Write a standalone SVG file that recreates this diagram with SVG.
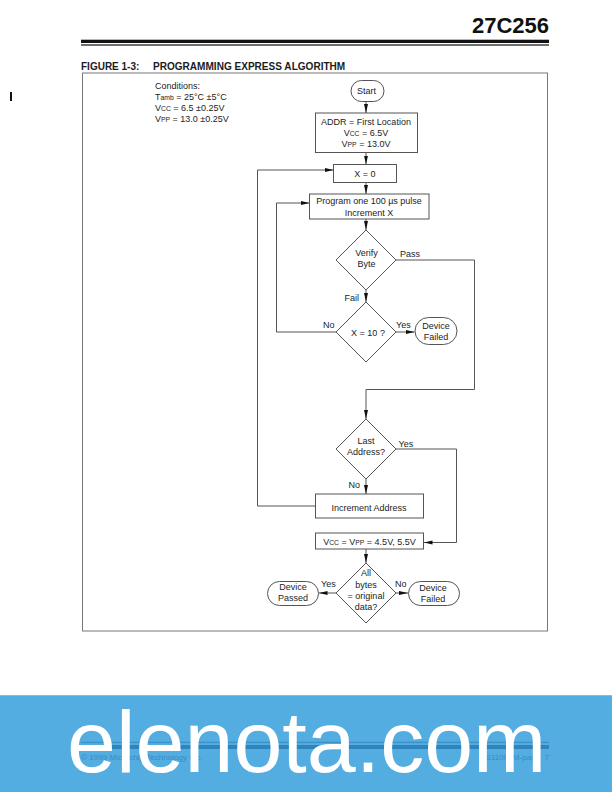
<svg xmlns="http://www.w3.org/2000/svg" width="612" height="792" viewBox="0 0 612 792">
<style>
text{font-family:"Liberation Sans",Arial,sans-serif;fill:#1c1c1c;font-size:9px}
.c{text-anchor:middle}
.s{font-size:6.8px}
.n{fill:#fff;stroke:#555;stroke-width:1}
.l{fill:none;stroke:#555;stroke-width:1}
.f{font-size:8.1px;fill:#3a8cc2}
</style>
<defs>
<marker id="a" markerWidth="9" markerHeight="6" refX="9" refY="3" orient="auto" markerUnits="userSpaceOnUse"><path d="M0 1 L9 3 L0 5 Z" fill="#111"/></marker>
</defs>
<rect width="612" height="792" fill="#fff"/>
<g id="header">
<text x="549" y="33" text-anchor="end" style="font-size:22px;font-weight:bold;fill:#111">27C256</text>
<rect x="81" y="39.7" width="468" height="3.3" fill="#111"/>
<rect x="81" y="44.3" width="468" height="1.4" fill="#333"/>
<rect x="10" y="92" width="2" height="9" fill="#111"/>
<text x="81" y="70" style="font-size:10px;font-weight:bold">FIGURE 1-3:</text>
<text x="153" y="70" style="font-size:10.05px;font-weight:bold">PROGRAMMING EXPRESS ALGORITHM</text>
<rect x="82.500" y="73" width="465" height="558" fill="none" stroke="#777" stroke-width="1"/>
</g>
<g id="conditions">
<text x="155" y="88.500">Conditions:</text>
<text x="155" y="100">T<tspan class="s">amb</tspan> = 25°C ±5°C</text>
<text x="155" y="111">V<tspan class="s">CC</tspan> = 6.5 ±0.25V</text>
<text x="155" y="122">V<tspan class="s">PP</tspan> = 13.0 ±0.25V</text>
</g>
<g id="connectors">
<path class="l" d="M366 101V113" marker-end="url(#a)"/>
<path class="l" d="M366 152.500V164.500" marker-end="url(#a)"/>
<path class="l" d="M366 182.500V194" marker-end="url(#a)"/>
<path class="l" d="M366 219V230" marker-end="url(#a)"/>
<path class="l" d="M366 290V302" marker-end="url(#a)"/>
<path class="l" d="M396 332H414.500" marker-end="url(#a)"/>
<path class="l" d="M336 332H276.500V203H309.500" marker-end="url(#a)"/>
<path class="l" d="M396 260H474.500V389.500H366V419" marker-end="url(#a)"/>
<path class="l" d="M366 479V494" marker-end="url(#a)"/>
<path class="l" d="M315 506H257.500V170H333.500" marker-end="url(#a)"/>
<path class="l" d="M396 449H456.500V542.500H423.500" marker-end="url(#a)"/>
<path class="l" d="M366 549V563" marker-end="url(#a)"/>
<path class="l" d="M336 593H318.500" marker-end="url(#a)"/>
<path class="l" d="M396 593H408" marker-end="url(#a)"/>
</g>
<g id="start"><rect class="n" x="351" y="80.500" width="33" height="21" rx="10.500"/><text class="c" x="366.500" y="94">Start</text></g>
<g id="addr"><rect class="n" x="315.500" y="113" width="102" height="39.500"/>
<text class="c" x="366" y="125">ADDR = First Location</text>
<text class="c" x="366" y="136">V<tspan class="s">CC</tspan> = 6.5V</text>
<text class="c" x="366" y="147">V<tspan class="s">PP</tspan> = 13.0V</text></g>
<g id="x0"><rect class="n" x="333.500" y="164.500" width="63" height="18"/><text class="c" x="365" y="176.500">X = 0</text></g>
<g id="program"><rect class="n" x="309.500" y="194" width="119.500" height="25"/>
<text class="c" x="369" y="204">Program one 100 µs pulse</text>
<text class="c" x="369" y="216">Increment X</text></g>
<g id="verify"><path class="n" d="M366 230L396 260L366 290L336 260Z"/>
<text class="c" x="366.500" y="256">Verify</text><text class="c" x="366.500" y="267">Byte</text></g>
<g id="x10"><path class="n" d="M366 302L396 332L366 362L336 332Z"/><text class="c" x="368" y="335.500">X = 10 ?</text></g>
<g id="failed1"><rect class="n" x="415" y="317.500" width="42" height="27" rx="13.500"/>
<text class="c" x="436" y="329">Device</text><text class="c" x="436" y="340">Failed</text></g>
<g id="last"><path class="n" d="M366 419L396 449L366 479L336 449Z"/>
<text class="c" x="366" y="444">Last</text><text class="c" x="366" y="455">Address?</text></g>
<g id="incaddr"><rect class="n" x="315.500" y="494" width="108" height="24"/><text class="c" x="369" y="511">Increment Address</text></g>
<g id="vcc"><rect class="n" x="315.500" y="533" width="108" height="16"/><text class="c" x="369.500" y="544.500">V<tspan class="s">CC</tspan> = V<tspan class="s">PP</tspan> = 4.5V, 5.5V</text></g>
<g id="allbytes"><path class="n" d="M366 563L396 593L366 623L336 593Z"/>
<text class="c" x="366" y="576">All</text><text class="c" x="366" y="588">bytes</text><text class="c" x="366" y="599">= original</text><text class="c" x="366" y="610">data?</text></g>
<g id="passed"><rect class="n" x="267.500" y="581.500" width="51" height="24" rx="12"/>
<text class="c" x="293" y="590">Device</text><text class="c" x="293" y="601">Passed</text></g>
<g id="failed2"><rect class="n" x="408.500" y="581.500" width="51" height="24" rx="12"/>
<text class="c" x="433" y="591">Device</text><text class="c" x="433" y="602">Failed</text></g>
<g id="labels">
<text x="400" y="257">Pass</text>
<text x="344.500" y="301">Fail</text>
<text x="323" y="328">No</text>
<text x="396" y="328">Yes</text>
<text x="398.500" y="447">Yes</text>
<text x="348.500" y="488">No</text>
<text x="321" y="587">Yes</text>
<text x="395" y="587">No</text>
</g>
<g id="watermark">
<rect x="0" y="695" width="612" height="97" fill="#53ade0"/>
<rect x="0" y="695" width="612" height="1" fill="#7cc0e8"/>
<rect x="81" y="741.700" width="468" height="1.400" fill="#3d93c9"/>
<rect x="81" y="745" width="468" height="4" fill="#2f85bb"/>
<text class="f" x="81" y="760">© 1999 Microchip Technology Inc.</text>
<text class="f" x="549" y="760" text-anchor="end" style="word-spacing:2px">DS11001M-page 7</text>
<text x="67" y="772" style="font-size:88px;fill:#fff">elenota.com</text>
</g>
</svg>
